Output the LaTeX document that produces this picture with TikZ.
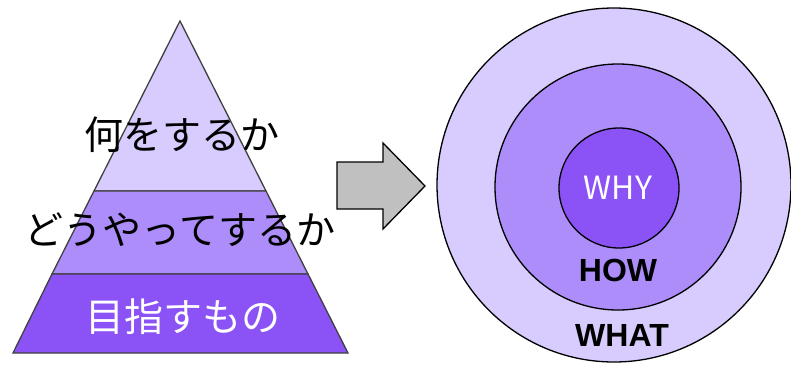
\documentclass[tikz,border=0pt]{standalone}
\usepackage{fontspec}
\setmainfont{Liberation Sans}
\newfontfamily\cjk{Noto Sans CJK JP}
\definecolor{lavA}{HTML}{D8CBFD}
\definecolor{lavB}{HTML}{AC8DFA}
\definecolor{lavC}{HTML}{8B53F6}
\definecolor{edgeG}{HTML}{404040}
\definecolor{arrowG}{HTML}{C0C0C0}
\begin{document}
\begin{tikzpicture}[x=1pt,y=-1pt,
  band/.style={draw=edgeG,line width=1.3pt},
  jp/.style={font=\cjk\fontsize{39}{42}\selectfont,inner sep=0pt},
  ring/.style={circle,draw=black,line width=1.3pt,inner sep=0pt},
  bold/.style={font=\fontsize{32}{34}\selectfont\bfseries,inner sep=0pt},
  thin/.style={font=\cjk\fontsize{32}{34}\selectfont,inner sep=0pt}]
\useasboundingbox (0,0) rectangle (791,367);
% pyramid
\fill[white] (0,0) rectangle (791,367);
\path[band,fill=lavA] (180,21) -- (266,191) -- (94,191) -- cycle;
\path[band,fill=lavB] (94,191) -- (266,191) -- (308,274) -- (52,274) -- cycle;
\path[band,fill=lavC] (52,274) -- (308,274) -- (348,353) -- (13,353) -- cycle;
\node[jp] (t1) at (182,135) {何をするか};
\node[jp] (t2) at (180,230) {どうやってするか};
\node[jp,text=white] (t3) at (183,317) {目指すもの};
% arrow
\path[draw=black,line width=1.3pt,fill=arrowG] (337,162) -- (383,162) -- (383,143) -- (425,186) -- (383,229) -- (383,209) -- (337,209) -- cycle;
% circles
\node[ring,fill=lavA,minimum size=354pt] (outer) at (614,185) {};
\node[ring,fill=lavB,minimum size=246pt] (middle) at (618,187) {};
\node[ring,fill=lavC,minimum size=120pt] (inner) at (619,188) {};
\node[thin,text=white] (why) at (618,188) {WHY};
\node[bold] (how) at (618,270) {HOW};
\node[bold] (what) at (622,335) {WHAT};
\end{tikzpicture}
\end{document}
